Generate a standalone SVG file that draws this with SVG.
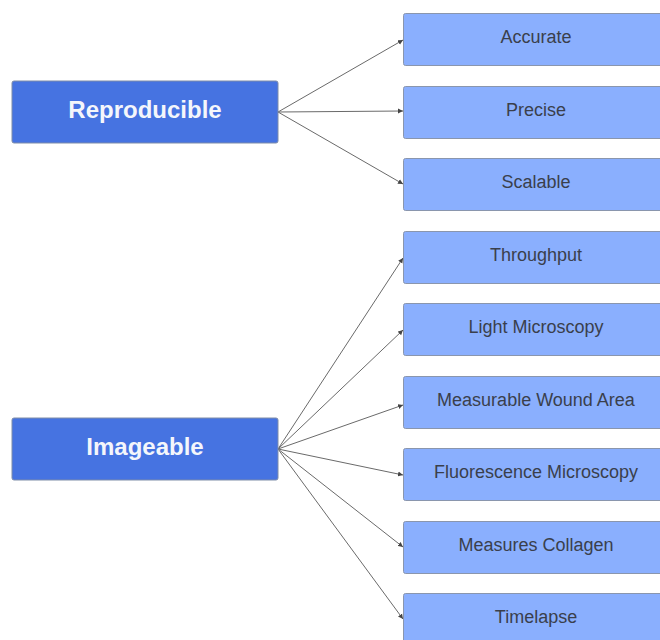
<svg xmlns="http://www.w3.org/2000/svg" width="660" height="640" viewBox="0 0 660 640">
<defs>
<marker id="ah" markerWidth="6" markerHeight="6" refX="5" refY="3" orient="auto" markerUnits="userSpaceOnUse">
<path d="M0,0.5 L5,3 L0,5.5 Z" fill="#444"/>
</marker>
<style>
.main rect{fill:#4673E1;stroke:#7f8da8;stroke-width:1}
.main text{font-family:"Liberation Sans",Arial,sans-serif;font-size:24px;font-weight:bold;fill:#f4f6fb;text-anchor:middle;dominant-baseline:central}
.leaf rect{fill:#8AAFFE;stroke:#8a96ad;stroke-width:1}
.leaf text{font-family:"Liberation Sans",Arial,sans-serif;font-size:18px;fill:#3a3f4c;text-anchor:middle;dominant-baseline:central}
.conn line{stroke:#6a6a6a;stroke-width:1;marker-end:url(#ah)}
</style>
</defs>
<rect width="660" height="640" fill="#ffffff"/>
<g class="conn" id="connectors">
<line x1="278" y1="112" x2="403" y2="40"/>
<line x1="278" y1="112" x2="403" y2="111"/>
<line x1="278" y1="112" x2="403" y2="184"/>
<line x1="278" y1="449" x2="403" y2="258"/>
<line x1="278" y1="449" x2="403" y2="330"/>
<line x1="278" y1="449" x2="403" y2="405"/>
<line x1="278" y1="449" x2="403" y2="475"/>
<line x1="278" y1="449" x2="403" y2="547"/>
<line x1="278" y1="449" x2="403" y2="619"/>
</g>
<g class="main" id="reproducible"><rect x="12" y="81" width="266" height="62" rx="2"/><text x="145" y="109">Reproducible</text></g>
<g class="main" id="imageable"><rect x="12" y="418" width="266" height="62" rx="2"/><text x="145" y="446">Imageable</text></g>
<g class="leaf" id="accurate"><rect x="403.5" y="13.5" width="266" height="52" rx="2"/><text x="536" y="37">Accurate</text></g>
<g class="leaf" id="precise"><rect x="403.5" y="86.5" width="266" height="52" rx="2"/><text x="536" y="110">Precise</text></g>
<g class="leaf" id="scalable"><rect x="403.5" y="158.5" width="266" height="52" rx="2"/><text x="536" y="182">Scalable</text></g>
<g class="leaf" id="throughput"><rect x="403.5" y="231.5" width="266" height="52" rx="2"/><text x="536" y="255">Throughput</text></g>
<g class="leaf" id="light"><rect x="403.5" y="303.5" width="266" height="52" rx="2"/><text x="536" y="327">Light Microscopy</text></g>
<g class="leaf" id="wound"><rect x="403.5" y="376.5" width="266" height="52" rx="2"/><text x="536" y="400">Measurable Wound Area</text></g>
<g class="leaf" id="fluorescence"><rect x="403.5" y="448.5" width="266" height="52" rx="2"/><text x="536" y="472">Fluorescence Microscopy</text></g>
<g class="leaf" id="collagen"><rect x="403.5" y="521.5" width="266" height="52" rx="2"/><text x="536" y="545">Measures Collagen</text></g>
<g class="leaf" id="timelapse"><rect x="403.5" y="593.5" width="266" height="52" rx="2"/><text x="536" y="617">Timelapse</text></g>
</svg>
